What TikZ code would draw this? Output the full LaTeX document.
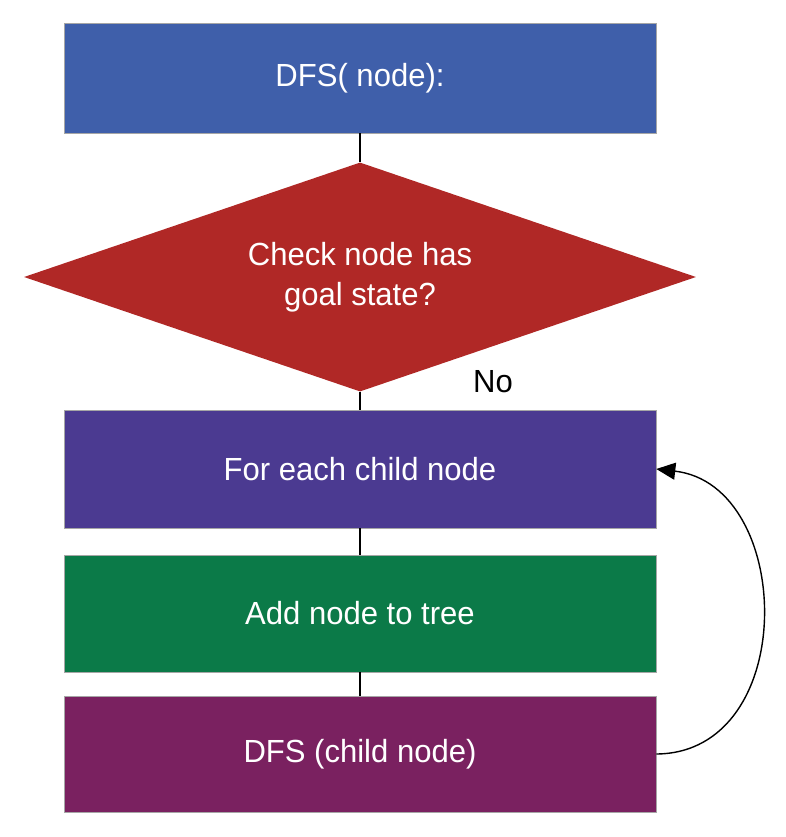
\documentclass[tikz,border=0pt]{standalone}
\usepackage{fontspec}
\setmainfont{Liberation Sans}[FakeStretch=0.97]
\usetikzlibrary{shapes.geometric,arrows.meta}
\definecolor{cblue}{HTML}{3F5FAA}
\definecolor{cred}{HTML}{B02826}
\definecolor{cpurple}{HTML}{4B3A91}
\definecolor{cgreen}{HTML}{0B7A48}
\definecolor{cmagenta}{HTML}{7A2160}
\tikzset{
  box/.style={rectangle, draw=black!35, line width=0.6pt, minimum width=592pt, inner sep=0pt, text=white, font=\fontsize{32}{40}\selectfont},
  link/.style={draw=black, line width=1.4pt},
}
\begin{document}
\begin{tikzpicture}[x=1pt,y=-1pt]
\useasboundingbox (0,0) rectangle (786,837);
\node[box, fill=cblue, minimum height=110pt] (b1) at (360,78) {DFS( node):};
\node[diamond, fill=cred, minimum width=672pt, minimum height=229pt, aspect=2.93, inner sep=0pt, text=white, align=center, font=\fontsize{32}{40}\selectfont] (d) at (360,277) {Check node has\\goal state?};
\node[box, fill=cpurple, minimum height=118pt] (b2) at (360,469) {For each child node};
\node[box, fill=cgreen, minimum height=117pt] (b3) at (360,613.5) {Add node to tree};
\node[box, fill=cmagenta, minimum height=116pt] (b4) at (360,754) {DFS (child node)};
\node[font=\fontsize{32}{40}\selectfont, text=black] (no) at (493,382) {No};
\draw[link] (b1.south) -- (d.north);
\draw[link] (d.south) -- (b2.north);
\draw[link] (b2.south) -- (b3.north);
\draw[link] (b3.south) -- (b4.north);
\draw[link, -{Triangle[length=19pt,width=17pt]}] (b4.east) .. controls (800,753) and (795,485) .. (b2.east);
\end{tikzpicture}
\end{document}
